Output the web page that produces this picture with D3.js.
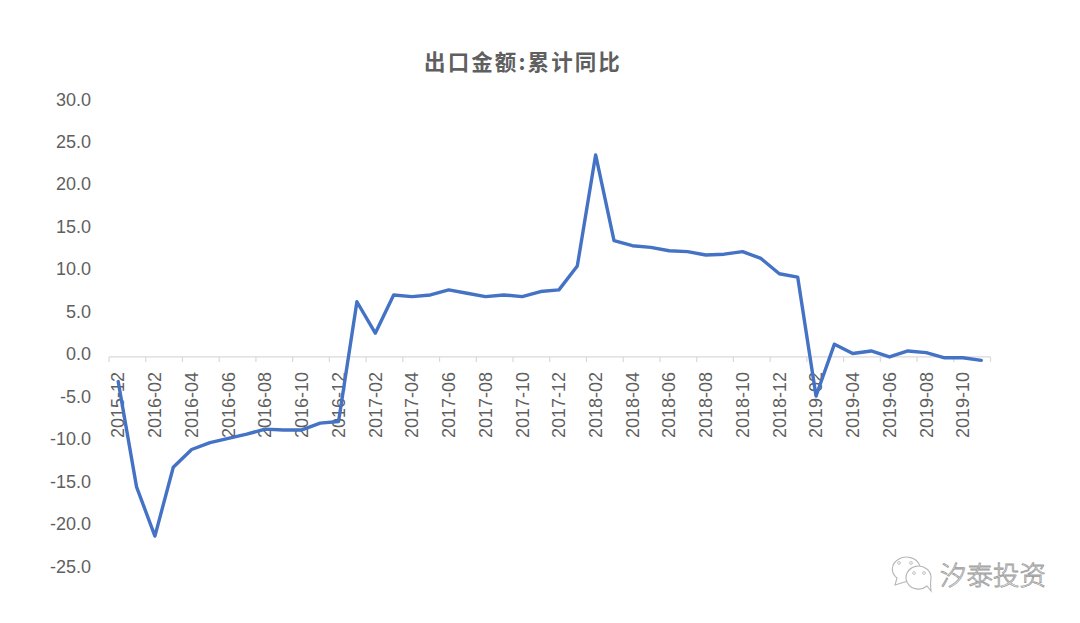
<!DOCTYPE html>
<html><head><meta charset="utf-8">
<script src="https://cdn.jsdelivr.net/npm/d3@7"></script>
<style>html,body{margin:0;padding:0;background:#fff}svg{display:block}</style>
</head><body><svg id="c" width="1080" height="623"></svg>
<script>
const months = ["2015-12","2016-01","2016-02","2016-03","2016-04","2016-05","2016-06","2016-07","2016-08","2016-09","2016-10","2016-11","2016-12","2017-01","2017-02","2017-03","2017-04","2017-05","2017-06","2017-07","2017-08","2017-09","2017-10","2017-11","2017-12","2018-01","2018-02","2018-03","2018-04","2018-05","2018-06","2018-07","2018-08","2018-09","2018-10","2018-11","2018-12","2019-01","2019-02","2019-03","2019-04","2019-05","2019-06","2019-07","2019-08","2019-09","2019-10","2019-11"];
const exportYoY = [-2.9,-15.3,-21.1,-13.0,-10.9,-10.1,-9.6,-9.1,-8.5,-8.6,-8.6,-7.8,-7.6,6.5,2.8,7.3,7.1,7.3,7.9,7.5,7.1,7.3,7.1,7.7,7.9,10.7,23.8,13.7,13.1,12.9,12.5,12.4,12.0,12.1,12.4,11.6,9.8,9.4,-4.6,1.5,0.4,0.7,0.0,0.7,0.5,-0.1,-0.1,-0.4];
const yTicks = [30,25,20,15,10,5,0,-5,-10,-15,-20,-25];
const titleText = "出口金额:累计同比";
const watermark = "汐泰投资";

const svg = d3.select("#c");
const font = "'Liberation Sans',Arial,sans-serif";
const x = d3.scaleBand().domain(months).range([109,990.5]);
const y = d3.scaleLinear().domain([-25,30]).range([569.2,102.2]);
const GREY = "#5f5f5f";

svg.append("text").attr("x",523).attr("y",70).attr("text-anchor","middle")
  .attr("font-family","'Noto Sans CJK SC',sans-serif").attr("font-weight",700)
  .attr("font-size",21.5).attr("letter-spacing",2.1).attr("fill",GREY).text(titleText);

// y labels
svg.append("g").selectAll("text").data(yTicks).join("text")
  .attr("x",91).attr("y",d=>y(d)-3).attr("dy","0.35em").attr("text-anchor","end")
  .attr("font-family",font).attr("font-size",18).attr("fill",GREY)
  .text(d=>d.toFixed(1));

// x axis
const ax = svg.append("g").attr("transform",`translate(0,${y(0)})`);
ax.append("line").attr("x1",x.range()[0]).attr("x2",x.range()[1]).attr("stroke","#d9d9d9").attr("stroke-width",1.2);
const tickM = months.filter((m,i)=>i%2===0);
ax.selectAll("line.t").data(tickM.concat(["end"])).join("line").attr("class","t")
  .attr("x1",d=>d==="end"?x.range()[1]:x(d)).attr("x2",d=>d==="end"?x.range()[1]:x(d))
  .attr("y1",0).attr("y2",5).attr("stroke","#d9d9d9").attr("stroke-width",1.2);
ax.selectAll("text").data(tickM).join("text")
  .attr("transform",d=>`translate(${x(d)+x.bandwidth()/2},${15}) rotate(-90)`)
  .attr("text-anchor","end").attr("dy","0.35em")
  .attr("font-family",font).attr("font-size",18).attr("fill",GREY).text(d=>d);

// series
const line = d3.line().x((d,i)=>x(months[i])+x.bandwidth()/2).y(d=>y(d));
svg.append("path").datum(exportYoY).attr("d",line).attr("fill","none")
  .attr("stroke","#4472c4").attr("stroke-width",3.4).attr("stroke-linejoin","round").attr("stroke-linecap","round");

// watermark
const wm = svg.append("g").attr("fill","#fff").attr("stroke","#b5b5b5").attr("stroke-width",1.1);
wm.append("path").attr("d","M895 585 L897 578 A14 12 0 1 1 908 581 Z");
wm.append("path").attr("d","M931 591 L927 586 A12.5 11.5 0 1 1 931 578 Q930 584 931 591 Z");
[[899,563],[911,563],[914,573],[924,573]].forEach(p=>wm.append("circle").attr("cx",p[0]).attr("cy",p[1]).attr("r",1.4).attr("stroke-width",.8));
svg.append("text").attr("x",940).attr("y",585).attr("font-family","'Noto Sans CJK SC',sans-serif")
  .attr("font-size",26.5).attr("font-weight",300).attr("fill","#fff").attr("stroke","#9a9a9a").attr("stroke-width",.8).text(watermark);
</script></body></html>
